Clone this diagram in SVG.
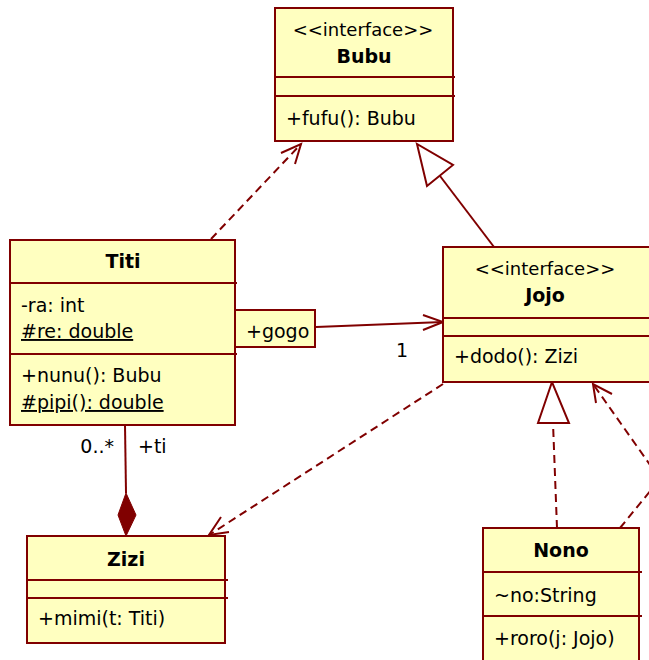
<svg xmlns="http://www.w3.org/2000/svg" width="649" height="660" viewBox="0 0 649 660">
<style>
.box{fill:#ffffc0;stroke:#800000;stroke-width:2}
.sep{stroke:#800000;stroke-width:2}
.t{font-family:"DejaVu Sans",Verdana,sans-serif;font-size:19px;fill:#000}
.s{font-size:18px}
.b{font-weight:bold;text-anchor:middle}
.c{text-anchor:middle}
.u{text-decoration:underline}
.ln{fill:none;stroke:#800000;stroke-width:2}
.d{stroke-dasharray:8,5}
</style>
<g id="connectors">
  <!-- Titi -> Bubu dependency -->
  <path class="ln d" d="M211,239 L301,144"/>
  <path class="ln" d="M281,153 L301,144 L295,164"/>
  <!-- Jojo -> Bubu generalization -->
  <path class="ln" d="M494,247 L440,176"/>
  <polygon points="417,144 427,186 453,165" fill="#fff" stroke="#800000" stroke-width="2"/>
  <!-- gogo association -->
  <path class="ln" d="M316,327 L443,322"/>
  <path class="ln" d="M423,315 L443,322 L423,330"/>
  <text class="t" x="396" y="357">1</text>
  <!-- Jojo -> Zizi dependency -->
  <path class="ln d" d="M443,384 L209,535"/>
  <path class="ln" d="M221,517 L209,535 L229,532"/>
  <!-- composition -->
  <path class="ln" d="M125,425 L126,493"/>
  <polygon points="126,493 136,515 126,536 118,515" fill="#800000" stroke="#800000" stroke-width="1"/>
  <text class="t" x="114" y="453" text-anchor="end">0..*</text>
  <text class="t" x="138" y="453">+ti</text>
  <!-- Nono -> Jojo realization -->
  <path class="ln d" d="M557,528 L553,423"/>
  <polygon points="552,382 538,423 569,423" fill="#fff" stroke="#800000" stroke-width="2"/>
  <!-- Nono -> Jojo dependency -->
  <path class="ln d" d="M620,528 L660,479 L593,384"/>
  <path class="ln" d="M596,403 L593,384 L612,394"/>
</g>
<g id="Bubu">
  <rect class="box" x="275" y="8" width="178" height="133"/>
  <line class="sep" x1="275" y1="77" x2="455" y2="77"/>
  <line class="sep" x1="275" y1="96" x2="455" y2="96"/>
  <text class="t s c" x="363" y="36">&lt;&lt;interface&gt;&gt;</text>
  <text class="t b" x="364" y="63">Bubu</text>
  <text class="t" x="286" y="125">+fufu(): Bubu</text>
</g>
<g id="Titi">
  <rect class="box" x="10" y="240" width="225" height="185"/>
  <line class="sep" x1="10" y1="283" x2="237" y2="283"/>
  <line class="sep" x1="10" y1="354" x2="237" y2="354"/>
  <text class="t b" x="123" y="268">Titi</text>
  <text class="t" x="21" y="312">-ra: int</text>
  <text class="t u" x="21" y="338">#re: double</text>
  <text class="t" x="21" y="382">+nunu(): Bubu</text>
  <text class="t u" x="21" y="409">#pipi(): double</text>
</g>
<g id="gogo">
  <rect class="box" x="235" y="310" width="80" height="37"/>
  <text class="t" x="246" y="338">+gogo</text>
</g>
<g id="Jojo">
  <rect class="box" x="443" y="247" width="210" height="135"/>
  <line class="sep" x1="443" y1="318" x2="653" y2="318"/>
  <line class="sep" x1="443" y1="336" x2="653" y2="336"/>
  <text class="t s c" x="545" y="275">&lt;&lt;interface&gt;&gt;</text>
  <text class="t b" x="545" y="302">Jojo</text>
  <text class="t" x="454" y="363">+dodo(): Zizi</text>
</g>
<g id="Zizi">
  <rect class="box" x="27" y="536" width="198" height="107"/>
  <line class="sep" x1="27" y1="580" x2="228" y2="580"/>
  <line class="sep" x1="27" y1="598" x2="228" y2="598"/>
  <text class="t b" x="126" y="566">Zizi</text>
  <text class="t" x="38" y="625">+mimi(t: Titi)</text>
</g>
<g id="Nono">
  <rect class="box" x="483" y="528" width="156" height="140"/>
  <line class="sep" x1="483" y1="572" x2="642" y2="572"/>
  <line class="sep" x1="483" y1="616" x2="642" y2="616"/>
  <text class="t b" x="561" y="557">Nono</text>
  <text class="t" x="494" y="602">~no:String</text>
  <text class="t" x="494" y="645">+roro(j: Jojo)</text>
</g>
</svg>
